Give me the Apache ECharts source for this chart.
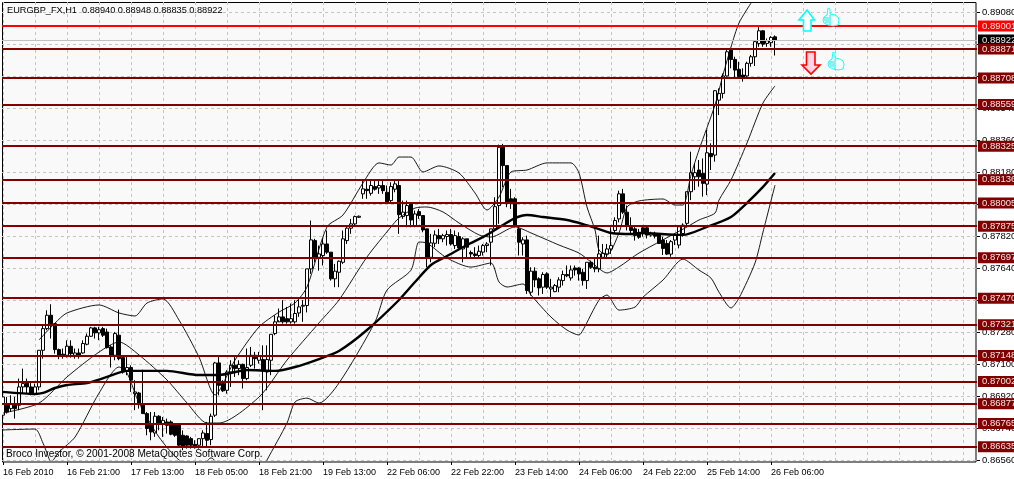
<!DOCTYPE html>
<html><head><meta charset="utf-8">
<style>html,body{margin:0;padding:0;background:#fff}#c{width:1014px;height:479px}</style>
<script src="https://cdn.jsdelivr.net/npm/echarts@6/dist/echarts.min.js"></script>
</head><body><div id="c"></div>
<script>
// Prices are in points (1 point = 0.00001)
const tickLabels=["16 Feb 2010","16 Feb 21:00","17 Feb 13:00","18 Feb 05:00","18 Feb 21:00","19 Feb 13:00","22 Feb 06:00","22 Feb 22:00","23 Feb 14:00","24 Feb 06:00","24 Feb 22:00","25 Feb 14:00","26 Feb 06:00"];
const opens=[86812,86868,86849,86868,86868,86971,86999,86971,86933,86971,
87177,87299,87374,87327,87181,87155,87149,87200,87149,87162,
87162,87211,87256,87303,87275,87299,87280,87196,87149,87262,
87136,87061,87080,86933,86937,86877,86821,86765,86712,86806,
86765,86774,86774,86761,86761,86699,86695,86680,86648,86643,
86680,86709,86675,86812,87106,86990,86952,87055,87093,87074,
87098,87018,87093,87149,87121,87125,87055,87121,87271,87337,
87365,87355,87337,87337,87387,87425,87429,87635,87794,87700,
87710,87775,87729,87579,87616,87672,87794,87864,87888,87925,
88057,88083,88060,88098,88090,88104,88066,88019,88083,88104,
87929,87935,88004,87879,87957,87935,87860,87700,87779,87822,
87804,87817,87828,87766,87817,87747,87804,87727,87719,87710,
87729,87766,87785,87860,87991,88319,88216,88029,88029,87860,
87775,87798,87504,87622,87579,87532,87607,87522,87507,87532,
87569,87603,87584,87640,87640,87616,87569,87672,87644,87635,
87700,87719,87747,87851,87916,88057,87954,87869,87860,87832,
87866,87866,87825,87829,87825,87797,87778,87718,87797,87769,
87834,87891,88069,88153,88191,88172,88112,88284,88275,88584,
88622,88720,88866,88813,88757,88725,88720,88791,88828,88903,
88974,88903,88907,88940];
const closes=[86915,86830,86873,86849,86971,86990,86971,86933,86971,87177,
87299,87374,87327,87181,87149,87147,87200,87158,87162,87149,
87215,87256,87303,87275,87293,87262,87192,87149,87271,87130,
87055,87080,87009,86943,86877,86821,86737,86718,86806,86765,
86783,86755,86705,86699,86643,86639,86643,86643,86639,86680,
86712,86671,86806,87106,86980,86949,87055,87093,87074,87098,
87018,87080,87149,87130,87143,87061,87125,87267,87337,87365,
87337,87337,87355,87384,87421,87430,87635,87798,87700,87719,
87775,87729,87579,87622,87678,87804,87864,87888,87929,87931,
88085,88075,88104,88083,88104,88075,88010,88098,88113,87940,
87954,87991,87910,87944,87935,87854,87697,87781,87826,87804,
87822,87828,87775,87822,87753,87804,87757,87719,87710,87734,
87766,87775,87860,87985,88319,88216,88010,88004,87879,87785,
87798,87513,87622,87573,87528,87603,87532,87532,87541,87573,
87603,87596,87629,87629,87607,87569,87672,87644,87635,87719,
87723,87747,87766,87907,88057,87954,87879,87851,87822,87813,
87834,87825,87834,87819,87778,87750,87718,87788,87825,87872,
87881,88069,88176,88176,88153,88116,88288,88266,88637,88622,
88720,88856,88813,88753,88716,88712,88791,88828,88913,88974,
88899,88918,88937,88922];
const highs=[86924,86915,86924,86915,87018,87074,87018,86999,86990,87177,
87318,87402,87436,87327,87187,87187,87233,87233,87187,87187,
87233,87271,87309,87309,87309,87309,87299,87205,87280,87406,
87140,87140,87093,87009,86943,87068,86830,86830,86830,86812,
86802,86793,86783,86765,86765,86727,86699,86690,86671,86680,
86727,86774,86821,87112,87140,87009,87065,87121,87149,87121,
87102,87187,87196,87168,87168,87205,87205,87267,87374,87412,
87459,87421,87440,87459,87468,87459,87635,87907,87804,87766,
87804,87851,87729,87663,87682,87851,87879,87916,87935,87935,
88132,88132,88132,88132,88132,88132,88104,88122,88132,88132,
88019,88019,88010,87963,87972,87935,87860,87832,87851,87860,
87832,87851,87860,87851,87841,87813,87804,87738,87757,87766,
87775,87785,87860,88038,88334,88338,88216,88085,88038,87879,
87813,87822,87644,87644,87588,87616,87616,87579,87550,87588,
87625,87654,87654,87654,87644,87635,87672,87682,87700,87822,
87775,87775,87869,87925,88075,88085,87991,87925,87879,87860,
87872,87872,87844,87844,87834,87816,87797,87797,87834,87872,
87891,88069,88294,88228,88247,88256,88416,88341,88641,88650,
88734,88866,88875,88828,88800,88763,88800,88838,88922,88997,
88978,88931,88944,88948];
const lows=[86812,86821,86830,86793,86840,86933,86933,86924,86924,86952,
87130,87290,87243,87158,87127,87130,87136,87136,87130,87130,
87158,87205,87252,87243,87234,87252,87187,87080,87121,87121,
87046,87037,86943,86840,86849,86821,86699,86671,86690,86727,
86690,86709,86699,86690,86634,86615,86624,86624,86624,86624,
86634,86634,86643,86802,86924,86943,86933,86971,87027,87037,
86962,87009,87083,87074,87102,86840,86952,87037,87262,87346,
87327,87327,87327,87327,87365,87337,87390,87607,87672,87625,
87654,87719,87569,87532,87532,87663,87775,87832,87879,87922,
88029,88029,88047,88075,88057,88057,88010,88010,88066,87832,
87916,87869,87869,87869,87916,87841,87644,87672,87757,87775,
87785,87766,87766,87747,87738,87672,87700,87700,87700,87700,
87710,87729,87654,87851,87888,88094,87982,87972,87869,87710,
87710,87494,87485,87532,87485,87494,87522,87475,87504,87504,
87541,87588,87569,87597,87569,87541,87522,87635,87616,87616,
87700,87700,87719,87832,87897,87944,87851,87832,87794,87804,
87816,87806,87816,87806,87777,87713,87713,87703,87769,87750,
87816,87872,88022,88078,88097,88041,88050,88191,88238,88500,
88594,88716,88763,88706,88706,88688,88706,88772,88776,88884,
88884,88884,88884,88835];
// Moving average and bands, read as [bar index, points]
const maBars=[0,8,10,13,16,21,26,31,41,49,54,61,68,73,79,84,91,99,103,107,111,116,121,125,128,131,135,141,145,149,152,157,159,170,176,182,186,190,193];
const maVals=[86943,86931,86937,86965,86982,86993,87027,87061,87061,87038,87038,87066,87061,87083,87128,87173,87291,87460,87561,87657,87707,87769,87826,87882,87921,87938,87927,87910,87887,87859,87837,87831,87837,87826,87871,87927,88006,88096,88174];
const upperBars=[9,13,16,24,29,33,36,40,44,49,53,58,64,69,73,76,81,85,90,94,97,99,102,105,109,114,118,121,124,127,131,136,142,144,146,148,149,151,154,156,159,165,168,170,172,174,178,180,182,184,187];
const upperVals=[87235,87330,87387,87432,87387,87370,87443,87466,87347,87139,86926,87122,87308,87392,87443,87533,87871,87938,88118,88231,88219,88264,88264,88180,88214,88174,88062,87966,88039,88180,88191,88231,88231,88174,87983,87854,87741,87713,87837,87983,88017,88028,87994,87994,88163,88304,88557,88726,88883,89018,89130];
const midBars=[0,9,16,24,29,34,41,46,51,54,64,71,79,84,91,97,99,103,106,110,114,119,122,128,132,139,144,147,151,154,159,171,174,178,179,182,186,190,193];
const midVals=[86824,86880,87027,87167,87224,87151,87010,86881,86768,86768,86914,87122,87331,87460,87702,87871,87921,87977,87983,87955,87893,87826,87814,87871,87837,87769,87724,87674,87612,87646,87724,87871,87910,87949,88022,88135,88343,88568,88664];
const lowerBars=[0,8,10,11,12,14,18,24,29,31,34,39,44,49,52,55,62,66,71,73,76,79,84,93,96,102,104,106,111,117,122,124,126,130,132,137,141,144,145,149,151,154,158,160,165,170,174,177,179,182,184,188,190,193];
const lowerVals=[86729,86734,86655,86599,86549,86605,86689,86936,87083,87049,86881,86689,86560,86504,86572,86504,86390,86560,86768,86886,86908,86880,86993,87336,87516,87628,87786,87780,87696,87645,87668,87561,87533,87550,87488,87364,87291,87263,87291,87459,87488,87403,87420,87476,87572,87690,87628,87583,87504,87415,87471,87668,87842,88106];
const levelVals=[88871,88708,88559,88325,88136,88005,87875,87697,87470,87321,87148,87002,86877,86765,86635];
const resistance=89001, lastPrice=88922;
const BAR_SLOTS=244;

const P=v=>v/1e5;
const FONT='"Liberation Sans",Arial,sans-serif', FS=9.5;
const categories=Array.from({length:BAR_SLOTS},(_,i)=>i%16===0&&tickLabels[i/16]?tickLabels[i/16]:'');
const ohlc=opens.map((o,i)=>[P(o),P(closes[i]),P(lows[i]),P(highs[i])]);
const pairs=(b,v)=>b.map((x,i)=>[x,P(v[i])]);
const line=(name,b,v,w,z)=>({name,type:'line',data:pairs(b,v),symbol:'none',z,clip:true,silent:true,animation:false,smooth:0.25,
  lineStyle:{color:'#000',width:w}});
const lvl=(v,lineColor,bg,w)=>({yAxis:P(v),lineStyle:{color:lineColor,width:w,type:'solid'},
  label:{show:true,position:'end',distance:1,formatter:P(v).toFixed(5),color:'#f6e6e6',backgroundColor:bg,
    fontFamily:FONT,fontSize:FS,padding:[1,0,0,4],lineHeight:10}});
const shift=(pts,x,y)=>pts.map(p=>[p[0]+x,p[1]+y]);
const arrowUp=[[8,0],[15.5,10],[12,10],[12,21],[4.5,21],[4.5,10],[0,10]];
const arrowDown=[[4.5,0],[13,0],[13,13],[18,13],[9,22],[0,13],[4.5,13]];
const thumb=[[5,0],[7,1],[7,6],[12,7],[15,9],[16,12],[15,17],[10,18],[5,17],[1,15],[0,12],[1,9],[4,7]];
const fingers=[[[1,10],[6,10]],[[1,12],[6,12]],[[2,14],[6,14]],[[7,7],[7,17]]];
const poly=(pts,x,y,stroke,fill,lw)=>({type:'polygon',z:20,silent:true,shape:{points:shift(pts,x,y)},style:{fill,stroke,lineWidth:lw}});
const thumbEls=(x,y)=>[poly(thumb,x,y,'#00ffff','#f2ffff',0.9),
  ...fingers.map(f=>({type:'polyline',z:20,silent:true,shape:{points:shift(f,x,y)},style:{fill:'none',stroke:'#00e0e0',lineWidth:0.9}}))];

const option={
  animation:false,
  backgroundColor:'#fff',
  grid:{left:1,top:2,width:976,height:458,show:false,outerBoundsMode:'none',containLabel:false},
  title:[
    {text:'EURGBP_FX,H1  0.88940 0.88948 0.88835 0.88922',left:7,top:6,padding:0,
     textStyle:{fontFamily:FONT,fontSize:9.2,fontWeight:'normal',color:'#000'}},
    {text:'Broco Investor, © 2001-2008 MetaQuotes Software Corp.',left:6,top:449,padding:0,
     textStyle:{fontFamily:FONT,fontSize:10.1,fontWeight:'normal',color:'#000'}}
  ],
  graphic:{elements:[
    {type:'rect',z:-5,silent:true,shape:{x:2.5,y:2.5,width:973.5,height:459.5},style:{fill:'#f9f9f9',stroke:'#000',lineWidth:1}},
    {type:'rect',z:30,silent:true,shape:{x:0,y:0,width:2,height:479},style:{fill:'#fff'}},
    poly(arrowUp,799,10,'#00ffff','#ffffff',1.6),
    poly(arrowDown,802,52,'#ff0000','#ffd5e5',1.6),
    ...thumbEls(823,8),
    ...thumbEls(828,52)
  ]},
  xAxis:{type:'category',data:categories,boundaryGap:true,offset:2,
    axisLine:{show:false},
    axisTick:{show:true,interval:(i,v)=>v!=='',length:3,alignWithLabel:true,lineStyle:{color:'#000'}},
    axisLabel:{interval:15,margin:6,align:'left',color:'#000',fontFamily:FONT,fontSize:9,hideOverlap:false},
    splitLine:{show:true,interval:7,alignWithLabel:true,lineStyle:{color:'#c4c4c4',type:[3,3],width:1}}},
  yAxis:{type:'value',position:'right',min:0.8656,max:0.89136,interval:0.0018,scale:true,
    axisLine:{show:false},
    axisTick:{show:true,length:3,lineStyle:{color:'#000'}},
    axisLabel:{margin:5,color:'#000',fontFamily:FONT,fontSize:FS,showMaxLabel:false,formatter:v=>v.toFixed(5)},
    splitLine:{show:true,showMaxLine:false,lineStyle:{color:'#c4c4c4',type:[3,3],width:1}}},
  series:[
    {name:'EURGBP',type:'candlestick',data:ohlc,barWidth:3,z:3,silent:true,animation:false,
     itemStyle:{color:'#ffffff',color0:'#000000',borderColor:'#000',borderColor0:'#000',borderWidth:1}},
    line('Upper band',upperBars,upperVals,0.9,4),
    line('Middle band',midBars,midVals,0.9,4),
    line('Lower band',lowerBars,lowerVals,0.9,4),
    line('Moving average',maBars,maVals,2.4,4),
    {name:'Levels',type:'line',data:[],z:6,silent:true,animation:false,
     markLine:{silent:true,symbol:'none',animation:false,precision:5,z:6,
      data:[lvl(lastPrice,'#c0c0c0','#000',1),
            lvl(resistance,'#ff0000','#ff0000',2),
            ...levelVals.map(v=>lvl(v,'#800000','#800000',2))]}}
  ]
};
const chart=echarts.init(document.getElementById('c'),null,{renderer:'canvas',width:1014,height:479});
chart.setOption(option);
</script></body></html>
